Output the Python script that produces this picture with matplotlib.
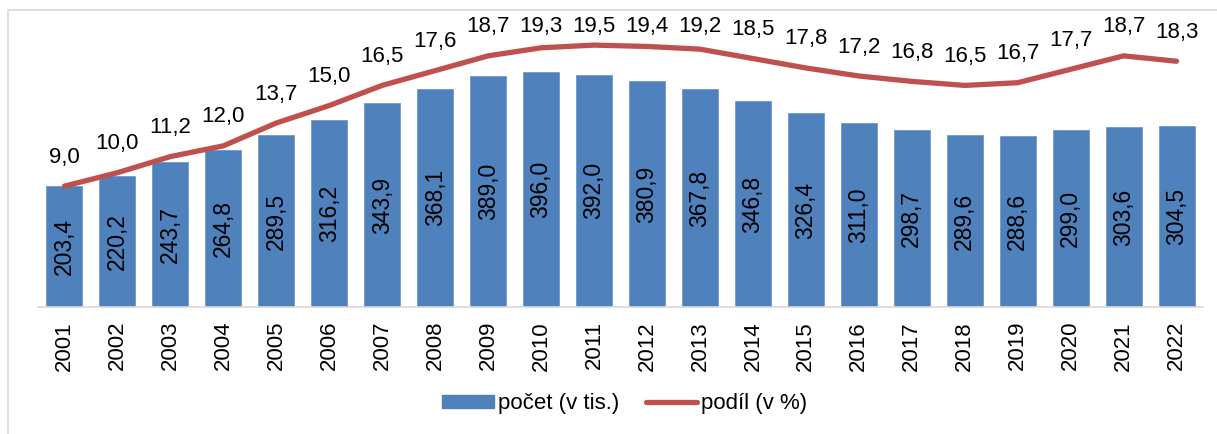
import numpy as np
import matplotlib.pyplot as plt
from matplotlib.patches import Rectangle
from matplotlib.lines import Line2D
from matplotlib.patches import Patch

plt.rcParams['font.family'] = ['Liberation Sans', 'DejaVu Sans']

# data
years = [str(y) for y in range(2001, 2023)]
pocet = [203.4, 220.2, 243.7, 264.8, 289.5, 316.2, 343.9, 368.1, 389.0, 396.0, 392.0,
         380.9, 367.8, 346.8, 326.4, 311.0, 298.7, 289.6, 288.6, 299.0, 303.6, 304.5]
podil = [9.0, 10.0, 11.2, 12.0, 13.7, 15.0, 16.5, 17.6, 18.7, 19.3, 19.5,
         19.4, 19.2, 18.5, 17.8, 17.2, 16.8, 16.5, 16.7, 17.7, 18.7, 18.3]

bar_color = '#4F81BD'
line_color = '#C0504D'

def fmt(v):
    return f'{v:.1f}'.replace('.', ',')

W, H = 1217, 434
fig = plt.figure(figsize=(W / 100, H / 100), dpi=100)
# axes box in pixels: left 38, right 1203, top 20, bottom 307
ax = fig.add_axes([38 / W, (H - 307) / H, (1203 - 38) / W, (307 - 20) / H])

x = np.arange(len(years))
ax.bar(x, pocet, width=0.68, color=bar_color, edgecolor='#6f98cc', linewidth=0.6, zorder=2)
ax.set_xlim(-0.5, len(years) - 0.5)
ax.set_ylim(0, 484)
for xi, v in zip(x, pocet):
    ax.text(xi, v / 2, fmt(v), rotation=90, ha='center', va='center',
            fontsize=16.5, color='black', zorder=4)

ax.set_xticks(x)
ax.set_xticklabels(years, rotation=90, fontsize=16)
ax.tick_params(axis='x', length=0, pad=10)
ax.set_yticks([])
for s in ['top', 'right', 'left']:
    ax.spines[s].set_visible(False)
ax.spines['bottom'].set_color('#d9d9d9')
ax.spines['bottom'].set_linewidth(1.2)

ax2 = ax.twinx()
ax2.set_ylim(0, 21.37)
ax2.plot(x, podil, color=line_color, linewidth=3.8, solid_capstyle='round', zorder=3)
ax2.set_yticks([])
for s in ax2.spines.values():
    s.set_visible(False)
# labels above points, kept inside the chart area
off = 29 / 13.43
for xi, v in zip(x, podil):
    ax2.text(xi, min(v + off, 20.85), fmt(v), ha='center', va='center',
             fontsize=16, color='black')

handles = [Patch(facecolor=bar_color, edgecolor=bar_color),
           Line2D([0], [0], color=line_color, linewidth=3.8, solid_capstyle='round')]
fig.legend(handles, ['počet (v tis.)', 'podíl (v %)'], loc='center',
           bbox_to_anchor=(625 / W, (H - 404) / H), ncol=2, frameon=False,
           fontsize=16, handlelength=2.3, handletextpad=0.2, columnspacing=1.2,
           handleheight=0.55)

fig.patches.append(Rectangle((8 / W, -0.1), 1.2, (H - 10) / H + 0.1,
                             transform=fig.transFigure, fill=False,
                             edgecolor='#d9d9d9', linewidth=1.2))

fig.savefig('out.png', dpi=100)
